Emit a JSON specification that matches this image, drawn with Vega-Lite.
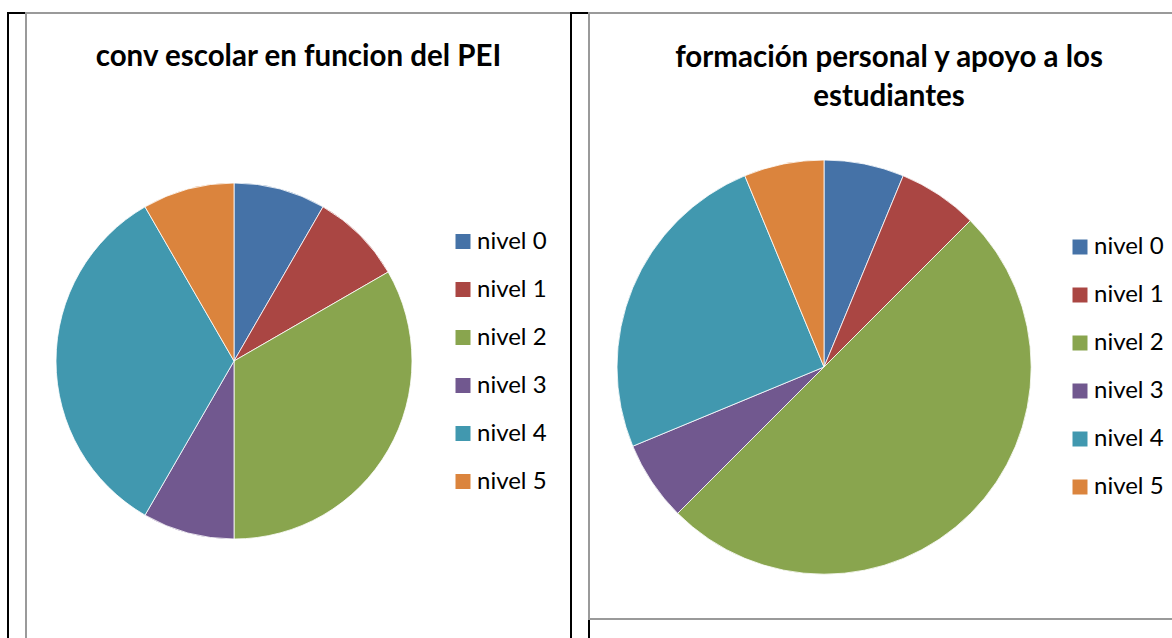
{
  "$schema": "https://vega.github.io/schema/vega-lite/v6.json",
  "background": "#ffffff",
  "padding": {"left": 7, "top": 12, "right": 0, "bottom": 0},
  "spacing": 0,
  "bounds": "flush",
  "datasets": {
    "conv": [
      {"nivel": "nivel 0", "valor": 1},
      {"nivel": "nivel 1", "valor": 1},
      {"nivel": "nivel 2", "valor": 4},
      {"nivel": "nivel 3", "valor": 1},
      {"nivel": "nivel 4", "valor": 4},
      {"nivel": "nivel 5", "valor": 1}
    ],
    "form": [
      {"nivel": "nivel 0", "valor": 1},
      {"nivel": "nivel 1", "valor": 1},
      {"nivel": "nivel 2", "valor": 8},
      {"nivel": "nivel 3", "valor": 1},
      {"nivel": "nivel 4", "valor": 4},
      {"nivel": "nivel 5", "valor": 1}
    ]
  },
  "hconcat": [
    {
      "data": {"values": []},
      "mark": "point",
      "width": 18,
      "height": 626,
      "view": {"stroke": "#000000", "strokeWidth": 2}
    },
    {
      "data": {"name": "conv"},
      "width": 545,
      "height": 626,
      "view": {"stroke": "#9a9a9a", "strokeWidth": 2},
      "title": {
        "text": "conv escolar en funcion del PEI",
        "font": "Lato",
        "fontSize": 29.5,
        "fontWeight": "bold",
        "color": "#000000",
        "anchor": "middle",
        "frame": "group",
        "baseline": "alphabetic",
        "offset": -82
      },
      "mark": {"type": "arc", "x": 208, "y": 348, "outerRadius": 178, "stroke": "#ffffff", "strokeWidth": 0.8},
      "encoding": {
        "theta": {"field": "valor", "type": "quantitative", "stack": true},
        "order": {"field": "nivel", "type": "ordinal", "sort": "ascending"},
        "color": {
          "field": "nivel",
          "type": "nominal",
          "scale": {
            "domain": ["nivel 0", "nivel 1", "nivel 2", "nivel 3", "nivel 4", "nivel 5"],
            "range": ["#4572A7", "#AA4643", "#89A54E", "#71588F", "#4198AF", "#DB843D"]
          },
          "legend": {
            "title": null,
            "orient": "none",
            "legendX": 425,
            "legendY": 216.5,
            "padding": 0,
            "symbolType": "square",
            "symbolSize": 225,
            "symbolStrokeWidth": 0,
            "symbolOpacity": 1,
            "labelFont": "Lato",
            "labelFontSize": 24,
            "labelColor": "#000000",
            "labelOffset": 2,
            "rowPadding": 24
          }
        }
      }
    },
    {
      "data": {"values": []},
      "mark": "point",
      "width": 18,
      "height": 626,
      "view": {"stroke": "#000000", "strokeWidth": 2}
    },
    {
      "data": {"name": "form"},
      "width": 584,
      "height": 606,
      "view": {"stroke": "#9a9a9a", "strokeWidth": 2},
      "title": {
        "text": ["formación personal y apoyo a los", "estudiantes"],
        "font": "Lato",
        "fontSize": 29.5,
        "fontWeight": "bold",
        "color": "#000000",
        "anchor": "middle",
        "frame": "group",
        "baseline": "alphabetic",
        "lineHeight": 39,
        "dx": 8,
        "offset": -122
      },
      "mark": {"type": "arc", "x": 235, "y": 354, "outerRadius": 207, "stroke": "#ffffff", "strokeWidth": 0.8},
      "encoding": {
        "theta": {"field": "valor", "type": "quantitative", "stack": true},
        "order": {"field": "nivel", "type": "ordinal", "sort": "ascending"},
        "color": {
          "field": "nivel",
          "type": "nominal",
          "scale": {
            "domain": ["nivel 0", "nivel 1", "nivel 2", "nivel 3", "nivel 4", "nivel 5"],
            "range": ["#4572A7", "#AA4643", "#89A54E", "#71588F", "#4198AF", "#DB843D"]
          },
          "legend": {
            "title": null,
            "orient": "none",
            "legendX": 479,
            "legendY": 222,
            "padding": 0,
            "symbolType": "square",
            "symbolSize": 225,
            "symbolStrokeWidth": 0,
            "symbolOpacity": 1,
            "labelFont": "Lato",
            "labelFontSize": 24,
            "labelColor": "#000000",
            "labelOffset": 2,
            "rowPadding": 24
          }
        }
      }
    }
  ],
  "resolve": {"scale": {"color": "independent"}}
}
